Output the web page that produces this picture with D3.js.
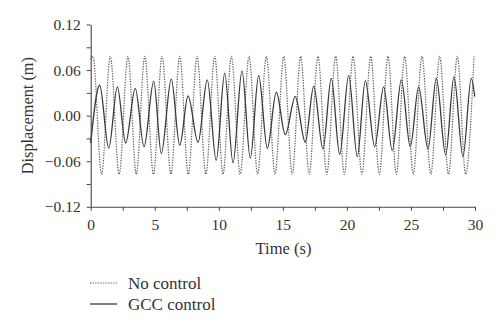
<!DOCTYPE html>
<html>
<head>
<meta charset="utf-8">
<script src="https://cdn.jsdelivr.net/npm/d3@7"></script>
<style>
  html, body { margin: 0; padding: 0; background: #fff; }
  svg { display: block; }
  text { font-family: "Liberation Serif", "DejaVu Serif", serif; fill: #333; }
</style>
</head>
<body>
<svg id="chart" width="500" height="328"></svg>
<script>
// ---- data ----
const noControlTime = [0, 0.18, 0.85, 1.53, 2.22, 2.91, 3.56, 4.22, 4.90, 5.57, 6.26, 6.95, 7.62, 8.30, 8.99, 9.68,
  10.33, 10.98, 11.67, 12.36, 13.03, 13.71, 14.39, 15.07, 15.73, 16.39, 17.06, 17.74, 18.43, 19.12, 19.80,
  20.48, 21.17, 21.86, 22.53, 23.21, 23.86, 24.51, 25.18, 25.86, 26.55, 27.24, 27.93, 28.62, 29.27, 29.92];
const noControlDisp = [0.074, 0.078, -0.077, 0.078, -0.077, 0.078, -0.077, 0.078, -0.077, 0.078, -0.077, 0.078, -0.077, 0.078, -0.077, 0.078,
  -0.077, 0.078, -0.077, 0.078, -0.077, 0.078, -0.077, 0.078, -0.077, 0.078, -0.077, 0.078, -0.077, 0.078, -0.077,
  0.078, -0.077, 0.078, -0.077, 0.078, -0.077, 0.078, -0.077, 0.078, -0.077, 0.078, -0.077, 0.078, -0.077, 0.078];

const gccTime = [0, 0.70, 1.41, 2.08, 2.73, 3.48, 4.16, 4.92, 5.51, 6.29, 6.95, 7.60, 8.38, 9.10, 9.80,
  10.46, 11.11, 11.81, 12.46, 13.11, 13.79, 14.49, 15.19, 15.97, 16.75, 17.41, 18.13, 18.78, 19.44,
  20.14, 20.81, 21.44, 22.17, 22.87, 23.54, 24.25, 24.95, 25.60, 26.33, 26.98, 27.71, 28.36, 29.06, 29.71, 29.98];
const gccDisp = [-0.036, 0.040, -0.043, 0.038, -0.036, 0.036, -0.041, 0.045, -0.050, 0.048, -0.039, 0.026, -0.035, 0.047, -0.059,
  0.056, -0.062, 0.059, -0.056, 0.053, -0.043, 0.031, -0.025, 0.025, -0.035, 0.039, -0.044, 0.049, -0.051,
  0.053, -0.054, 0.046, -0.041, 0.038, -0.046, 0.047, -0.041, 0.038, -0.044, 0.049, -0.052, 0.051, -0.054, 0.049, 0.025];

const xTicks = [0, 2.5, 5, 7.5, 10, 12.5, 15, 17.5, 20, 22.5, 25, 27.5, 30];
const xTickLabels = ["0", "", "5", "", "10", "", "15", "", "20", "", "25", "", "30"];
const yTicks = [-0.12, -0.09, -0.06, -0.03, 0, 0.03, 0.06, 0.09, 0.12];
const yTickLabels = ["\u22120.12", "", "\u22120.06", "", "0.00", "", "0.06", "", "0.12"];
const seriesNames = ["No control", "GCC control"];

// ---- drawing ----
const svg = d3.select("#chart");
const plotLeft = 90.7, plotRight = 475, plotTop = 24.5, plotBottom = 206.8;

const x = d3.scaleLinear().domain([0, 30]).range([plotLeft, plotRight]);
const y = d3.scaleLinear().domain([-0.12, 0.12]).range([plotBottom, plotTop]);

const axisColor = "#444";

const xAxis = d3.axisBottom(x)
  .tickValues(xTicks)
  .tickFormat((d, i) => xTickLabels[i])
  .tickSizeOuter(0).tickSizeInner(4).tickPadding(6);
const gx = svg.append("g").attr("transform", `translate(0,${plotBottom})`).call(xAxis);

const yAxis = d3.axisLeft(y)
  .tickValues(yTicks)
  .tickFormat((d, i) => yTickLabels[i])
  .tickSizeOuter(0).tickSizeInner(4).tickPadding(6);
const gy = svg.append("g").attr("transform", `translate(${plotLeft},0)`).call(yAxis);

[gx, gy].forEach(g => {
  g.select(".domain").attr("stroke", axisColor).attr("stroke-width", 1.1);
  g.selectAll(".tick line").attr("stroke", axisColor).attr("stroke-width", 1);
  g.selectAll(".tick text")
    .attr("font-family", "Liberation Serif, DejaVu Serif, serif")
    .attr("font-size", 15.5).attr("fill", "#333");
});
gx.selectAll(".tick text").attr("dy", "0.85em");

const line = d3.line()
  .x(d => x(d[0]))
  .y(d => y(d[1]))
  .curve(d3.curveMonotoneX);

const noCtrl = noControlTime.map((t, i) => [t, noControlDisp[i]]);
const gcc = gccTime.map((t, i) => [t, gccDisp[i]]);

svg.append("path").datum(noCtrl)
  .attr("d", line).attr("fill", "none")
  .attr("stroke", "#5a5a5a").attr("stroke-width", 1.2)
  .attr("stroke-dasharray", "1.3,1.3");

svg.append("path").datum(gcc)
  .attr("d", line).attr("fill", "none")
  .attr("stroke", "#3a3a3a").attr("stroke-width", 1.3);

// axis titles
svg.append("text")
  .attr("transform", `translate(33,${(plotTop + plotBottom) / 2}) rotate(-90)`)
  .attr("text-anchor", "middle")
  .attr("font-size", 16.3)
  .text("Displacement (m)");

svg.append("text")
  .attr("x", 283.5).attr("y", 254)
  .attr("text-anchor", "middle")
  .attr("font-size", 16.5)
  .text("Time (s)");

// legend
const legend = svg.append("g");
const legY = [283, 304];
legend.append("line").attr("x1", 90).attr("x2", 117).attr("y1", legY[0]).attr("y2", legY[0])
  .attr("stroke", "#5a5a5a").attr("stroke-width", 1.2).attr("stroke-dasharray", "1.3,1.3");
legend.append("line").attr("x1", 90).attr("x2", 117).attr("y1", legY[1]).attr("y2", legY[1])
  .attr("stroke", "#3a3a3a").attr("stroke-width", 1.3);
seriesNames.forEach((n, i) => {
  legend.append("text").attr("x", 128).attr("y", legY[i]).attr("dy", "0.35em")
    .attr("font-size", 17).text(n);
});
</script>
</body>
</html>
